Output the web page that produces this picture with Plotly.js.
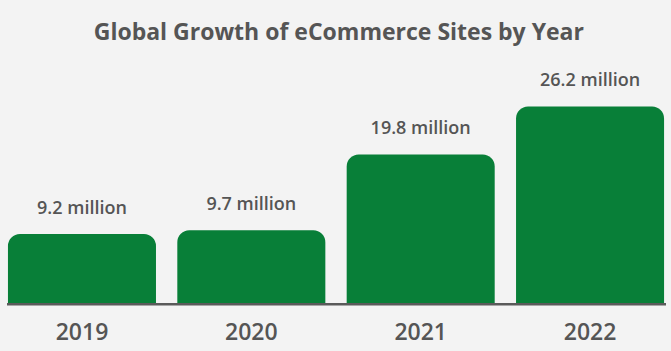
<!DOCTYPE html>
<html>
<head>
<meta charset="utf-8">
<script src="https://cdn.plot.ly/plotly-3.0.1.min.js"></script>
<style>html,body{margin:0;padding:0;background:#f3f3f3;}#chart{width:671px;height:351px;}</style>
</head>
<body>
<div id="chart"></div>
<script>
const years = ["2019", "2020", "2021", "2022"];
const sites = [9.2, 9.7, 19.8, 26.2];
const labels = ["9.2 million", "9.7 million", "19.8 million", "26.2 million"];

const textColor = "#555555";
const green = "#087f38";
const fontFam = "'Open Sans', sans-serif";

const bars = {
  type: "bar",
  x: years,
  y: sites,
  marker: {color: green, cornerradius: 12},
  hoverinfo: "skip"
};

const valueLabels = {
  type: "scatter",
  mode: "text+markers",
  x: years,
  y: sites,
  text: labels,
  textposition: "top center",
  marker: {size: 24, opacity: 0, color: green},
  textfont: {family: fontFam, size: 18, color: textColor, weight: 600},
  cliponaxis: false,
  hoverinfo: "skip"
};

const layout = {
  width: 671, height: 351,
  paper_bgcolor: "#f3f3f3", plot_bgcolor: "#f3f3f3",
  margin: {l: 0, r: 0, t: 0, b: 48},
  bargap: 0.126,
  showlegend: false,
  title: {
    text: "<b>Global Growth of eCommerce Sites by Year</b>",
    x: 0.505, xanchor: "center", y: 0.91, yanchor: "middle", yref: "container",
    font: {family: fontFam, size: 23, color: textColor, weight: 600}
  },
  xaxis: {
    type: "category",
    range: [-0.484, 3.478],
    showgrid: false, zeroline: false, showline: false,
    ticks: "outside", ticklen: 8, tickcolor: "rgba(0,0,0,0)",
    tickfont: {family: fontFam, size: 23, color: textColor, weight: 600},
    fixedrange: true
  },
  yaxis: {
    range: [0, 40.4],
    visible: false, showgrid: false, zeroline: false,
    fixedrange: true
  },
  shapes: [{
    type: "rect", xref: "paper", yref: "paper",
    y0: -2.5 / 303, y1: 0,
    x0: 7 / 671, x1: 666 / 671,
    fillcolor: "#5a5a5a", line: {width: 0}, layer: "above"
  }]
};

Plotly.newPlot("chart", [bars, valueLabels], layout, {displayModeBar: false, staticPlot: true});
</script>
</body>
</html>
